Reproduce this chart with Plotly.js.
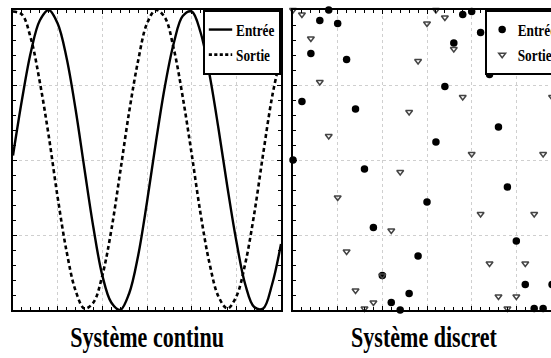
<!DOCTYPE html>
<html>
<head>
<meta charset="utf-8">
<script src="https://cdn.plot.ly/plotly-3.0.1.min.js"></script>
<style>
html, body { margin: 0; padding: 0; overflow: hidden; background: #fff; }
#chart { width: 600px; height: 358px; }
</style>
</head>
<body>
<div id="chart"></div>
<script>
// ---- data ----
const panelTitles = ["Système continu", "Système discret"];
const seriesNames = ["Entrée", "Sortie"];

// continuous system (left panel), sample index 0..30
const tContinu = [0,1,2,3,4,5,6,7,8,9,10,11,12,13,14,15,16,17,18,19,20,21,22,23,24,25,26,27,28,29,30];
const entreeContinu = [0.03,0.40,0.72,0.93,1.00,0.91,0.68,0.34,-0.06,-0.45,-0.77,-0.95,-1.00,-0.89,-0.64,-0.28,0.12,0.49,0.78,0.96,0.99,0.85,0.57,0.21,-0.18,-0.54,-0.83,-0.98,-0.99,-0.83,-0.56];
const sortieContinu = [0.99,0.97,0.81,0.52,0.16,-0.25,-0.61,-0.87,-0.99,-0.95,-0.77,-0.47,-0.08,0.32,0.66,0.91,1.00,0.95,0.74,0.42,0.04,-0.36,-0.69,-0.91,-0.99,-0.91,-0.69,-0.36,0.04,0.42,0.70];

// discrete system (right panel), sample index 0..29 (the frame is cut by the picture edge)
const kDiscret = [0,1,2,3,4,5,6,7,8,9,10,11,12,13,14,15,16,17,18,19,20,21,22,23,24,25,26,27,28,29];
const entreeDiscret = [0.00,0.39,0.71,0.93,1.00,0.91,0.67,0.34,-0.06,-0.45,-0.77,-0.95,-1.00,-0.89,-0.64,-0.28,0.12,0.49,0.78,0.97,0.99,0.85,0.57,0.22,-0.18,-0.54,-0.83,-0.99,-0.99,-0.83];
const sortieDiscret = [1.00,0.97,0.81,0.52,0.16,-0.25,-0.61,-0.87,-0.99,-0.95,-0.77,-0.47,-0.08,0.32,0.66,0.91,1.00,0.95,0.74,0.42,0.04,-0.36,-0.69,-0.91,-0.99,-0.91,-0.69,-0.36,0.04,0.42];

// ---- figure ----
const W = 600, H = 358;
const mL = 13, mR = 39, mT = 10, mB = 48;
const plotW = W - mL - mR; // 548
const d1 = [0, 268 / plotW];
const d2 = [280 / plotW, 1];

const SERIF = "Liberation Serif, Times New Roman, serif";

const traces = [
  { x: tContinu, y: entreeContinu, name: seriesNames[0], type: "scatter", mode: "lines",
    line: { color: "#000", width: 2.4, shape: "spline", smoothing: 1 },
    xaxis: "x", yaxis: "y", legend: "legend" },
  { x: tContinu, y: sortieContinu, name: seriesNames[1], type: "scatter", mode: "lines",
    line: { color: "#000", width: 2.6, dash: "4px,3px", shape: "spline", smoothing: 1 },
    xaxis: "x", yaxis: "y", legend: "legend" },
  { x: kDiscret, y: entreeDiscret, name: seriesNames[0], type: "scatter", mode: "markers",
    marker: { color: "#000", size: 7.5, symbol: "circle" }, cliponaxis: false,
    xaxis: "x2", yaxis: "y2", legend: "legend2" },
  { x: kDiscret, y: sortieDiscret, name: seriesNames[1], type: "scatter", mode: "markers",
    marker: { color: "#444", size: 6, symbol: "triangle-down-open", line: { width: 1.5, color: "#444" } },
    cliponaxis: false, xaxis: "x2", yaxis: "y2", legend: "legend2" }
];

function xa(domain, anchor) {
  return {
    domain: domain, anchor: anchor, range: [0, 30], dtick: 5, tick0: 0,
    showticklabels: false, ticks: "inside", ticklen: 4, tickcolor: "#000", tickwidth: 1,
    minor: { dtick: 1, ticks: "inside", ticklen: 3, tickcolor: "#000", showgrid: false },
    showline: true, linecolor: "#000", linewidth: 2, mirror: "ticks",
    showgrid: true, gridcolor: "#cfcfcf", griddash: "dot", gridwidth: 1,
    zeroline: false, fixedrange: true
  };
}
function ya(anchor) {
  return {
    anchor: anchor, range: [-1, 1], dtick: 0.5, tick0: 0,
    showticklabels: false, ticks: "inside", ticklen: 4, tickcolor: "#000", tickwidth: 1,
    minor: { dtick: 0.1, ticks: "inside", ticklen: 3, tickcolor: "#000", showgrid: false },
    showline: true, linecolor: "#000", linewidth: 2, mirror: "ticks",
    showgrid: true, gridcolor: "#cfcfcf", griddash: "dot", gridwidth: 1,
    zeroline: false, fixedrange: true
  };
}

const legendFont = { family: SERIF, size: 17, color: "#000", weight: "bold" };
const titleFont = { family: SERIF, size: 29, color: "#000", weight: "bold" };

const layout = {
  width: W, height: H,
  margin: { l: mL, r: mR, t: mT, b: mB, pad: 0 },
  paper_bgcolor: "#fff", plot_bgcolor: "#fff",
  showlegend: true,
  xaxis: xa(d1, "y"), yaxis: ya("x"),
  xaxis2: xa(d2, "y2"), yaxis2: ya("x2"),
  legend: {
    x: d1[1], xanchor: "right", y: 1, yanchor: "top",
    bgcolor: "#fff", bordercolor: "#000", borderwidth: 2,
    font: legendFont, itemwidth: 30
  },
  legend2: {
    x: (485 - mL) / plotW, xanchor: "left", y: 1, yanchor: "top",
    bgcolor: "#fff", bordercolor: "#000", borderwidth: 2,
    font: legendFont, itemwidth: 30
  },
  annotations: [
    { text: panelTitles[0], xref: "paper", yref: "paper", x: (147 - mL) / plotW, y: -0.09,
      xanchor: "center", yanchor: "middle", showarrow: false, font: titleFont },
    { text: panelTitles[1], xref: "paper", yref: "paper", x: (424 - mL) / plotW, y: -0.09,
      xanchor: "center", yanchor: "middle", showarrow: false, font: titleFont }
  ]
};

const TITLE_SX = 0.76;   // condensed look of the reference lettering
const LEGEND_SX = 0.78;

Plotly.newPlot("chart", traces, layout, { staticPlot: true, displayModeBar: false }).then(function (gd) {
  // condense the panel titles horizontally around their centres
  gd.querySelectorAll("text.annotation-text").forEach(function (t) {
    const b = t.getBBox();
    const cx = b.x + b.width / 2;
    t.setAttribute("transform", "translate(" + cx + ",0) scale(" + TITLE_SX + ",1) translate(" + (-cx) + ",0)");
  });
  // condense the legends horizontally (left one keeps its right edge, right one its left edge)
  ["legend", "legend2"].forEach(function (id) {
    const g = gd.querySelector("g." + id);
    if (!g) return;
    const tr = g.getAttribute("transform") || "";
    const m = tr.match(/translate\(\s*([-\d.]+)[ ,]+([-\d.]+)\s*\)/);
    if (!m) return;
    let X = parseFloat(m[1]);
    const Y = parseFloat(m[2]);
    const bg = g.querySelector("rect.bg");
    const w = bg ? parseFloat(bg.getAttribute("width")) : 0;
    if (id === "legend") X = X + w * (1 - LEGEND_SX);
    g.setAttribute("transform", "translate(" + X + "," + Y + ") scale(" + LEGEND_SX + ",1)");
    // keep round markers round
    g.querySelectorAll(".legendpoints path").forEach(function (p) {
      const pt = p.getAttribute("transform") || "";
      p.setAttribute("transform", pt + " scale(" + (1 / LEGEND_SX) + ",1)");
    });
  });
});
</script>
</body>
</html>
